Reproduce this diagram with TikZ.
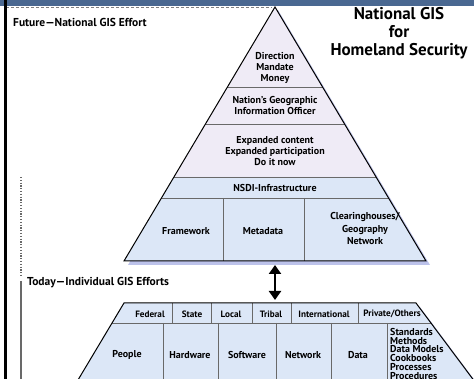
\documentclass[tikz,border=0pt]{standalone}
\usepackage{fontspec}
\setmainfont{PT Sans}
\usetikzlibrary{arrows.meta,calc}

\definecolor{bannerblue}{RGB}{74,104,145}
\definecolor{lavender}{RGB}{239,235,246}
\definecolor{paleblue}{RGB}{220,231,247}
\definecolor{shadowcol}{RGB}{188,194,234}
\definecolor{rulegray}{RGB}{105,105,105}

\tikzset{
	lbl/.style={font=\bfseries\fontsize{10}{11}\selectfont, align=center, inner sep=0pt},
	toplbl/.style={lbl, font=\bfseries\fontsize{9.2}{11}\selectfont},
	listlbl/.style={font=\bfseries\fontsize{10}{8.8}\selectfont, align=left, inner sep=0pt, anchor=north west},
	heading/.style={font=\bfseries\fontsize{11.5}{13}\selectfont, anchor=west, inner sep=0pt},
	outline/.style={draw=black, line width=1pt},
	divider/.style={draw=rulegray, line width=0.7pt}
}

\begin{document}
\begin{tikzpicture}[x=1pt,y=-1pt]
	\useasboundingbox (0,0) rectangle (474,379);
	\clip (0,0) rectangle (474,379);
	
	% banner and frame
	\fill[bannerblue] (0,0) rectangle (474,6);
	\draw[gray, line width=0.5pt, dash pattern=on 3pt off 2pt] (6,7.5) -- (272,7.5);
	\fill[black] (4,0) rectangle (6.5,379);
	
	% future pyramid
	\coordinate (apex) at (275,7);
	\coordinate (bl) at (124,261);
	\coordinate (br) at (426,261);
	\fill[shadowcol] ($(apex)+(3,3)$) -- ($(br)+(4,4)$) -- ($(bl)+(4,4)$) -- cycle;
	\fill[lavender] (apex) -- ($(apex)!0.669!(br)$) -- ($(apex)!0.669!(bl)$) -- cycle;
	\fill[paleblue] ($(apex)!0.669!(bl)$) -- ($(apex)!0.669!(br)$) -- (br) -- (bl) -- cycle;
	\foreach \t in {0.315,0.4606,0.669,0.752} {
		\draw[divider] ($(apex)!\t!(bl)$) -- ($(apex)!\t!(br)$);
	}
	\draw[divider] (223,198) -- (223,261);
	\draw[divider] (304,198) -- (304,261);
	\draw[outline] (apex) -- (br) -- (bl) -- cycle;
	
	\node[lbl] (direction) at (275,68) {Direction\\Mandate\\Money};
	\node[lbl] (officer) at (275,106) {Nation’s Geographic\\Information Officer};
	\node[lbl] (expanded) at (275,151) {Expanded content\\Expanded participation\\Do it now};
	\node[lbl] (nsdi) at (275,188) {NSDI-Infrastructure};
	\node[lbl] (framework) at (186,231) {Framework};
	\node[lbl] (metadata) at (263,231) {Metadata};
	\node[lbl, font=\bfseries\fontsize{10}{12.5}\selectfont] (clearing) at (365,229) {Clearinghouses/\\Geography\\Network};
	
	% link
	\coordinate (arrtop) at (275,265);
	\coordinate (arrbot) at (275,300);
	\draw[line width=2.6pt, {Triangle[width=12pt,length=9pt]}-{Triangle[width=12pt,length=9pt]}] (arrtop) -- (arrbot);
	
	% today trapezoid
	\coordinate (tl) at (124,303);
	\coordinate (tr) at (416,303);
	\coordinate (ll) at (72,390);
	\coordinate (lr) at (481,390);
	\fill[shadowcol] ($(tl)+(4,4)$) -- ($(tr)+(4,4)$) -- ($(lr)+(4,4)$) -- ($(ll)+(4,4)$) -- cycle;
	\fill[paleblue] (tl) -- (tr) -- (lr) -- (ll) -- cycle;
	\draw[divider] ($(tl)!0.23!(ll)$) -- ($(tr)!0.23!(lr)$);
	\foreach \x in {172,211,252,291,358} {
		\draw[divider] (\x,303) -- (\x,323);
	}
	\foreach \x in {163,218,276,331,387} {
		\draw[divider] (\x,323) -- (\x,379);
	}
	\draw[outline] (ll) -- (tl) -- (tr) -- (lr);
	
	\node[toplbl] (federal) at (150,314) {Federal};
	\node[toplbl] (state) at (192,314) {State};
	\node[toplbl] (local) at (231,314) {Local};
	\node[toplbl] (tribal) at (271,314) {Tribal};
	\node[toplbl] (intl) at (324,314) {International};
	\node[toplbl] (private) at (392,314) {Private/Others};
	
	\node[lbl] (people) at (127,355) {People};
	\node[lbl] (hardware) at (190,355) {Hardware};
	\node[lbl] (software) at (247,355) {Software};
	\node[lbl] (network) at (303,355) {Network};
	\node[lbl] (data) at (358,355) {Data};
	\node[listlbl] (standards) at (390,328) {Standards\\Methods\\Data Models\\Cookbooks\\Processes\\Procedures};
	
	% side labels
	\node[heading] (future) at (13,22) {Future—National GIS Effort};
	\node[heading] (today) at (27,283) {Today—Individual GIS Efforts};
	\draw[rulegray, line width=1.3pt, dash pattern=on 1.3pt off 1.5pt] (21,177) -- (21,277);
	\draw[rulegray, line width=1.2pt] (21,281) -- (21,379);
	
	\node[font=\bfseries\fontsize{17}{18}\selectfont, align=center, inner sep=0pt] (title) at (399,33) {National GIS\\for\\Homeland Security};
\end{tikzpicture}
\end{document}
